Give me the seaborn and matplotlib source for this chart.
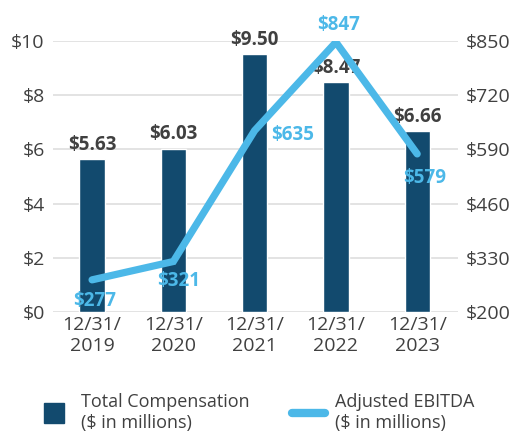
import matplotlib
matplotlib.use("Agg")
import matplotlib.pyplot as plt
import seaborn as sns
import pandas as pd
from matplotlib.lines import Line2D

categories = ["12/31/\n2019", "12/31/\n2020", "12/31/\n2021", "12/31/\n2022", "12/31/\n2023"]
compensation = [5.63, 6.03, 9.50, 8.47, 6.66]
ebitda = [277, 321, 635, 847, 579]
left_ticks = [0, 2, 4, 6, 8, 10]
right_ticks = [200, 330, 460, 590, 720, 850]

BAR = "#124a6e"
LINE = "#4cb8e8"
TXT = "#404040"

sns.set_theme(style="white")
plt.rcParams["font.family"] = ["Open Sans", "DejaVu Sans"]

fig = plt.figure(figsize=(5.15, 4.4), dpi=100)
ax = fig.add_axes([0.103, 0.291, 0.786, 0.616])

df = pd.DataFrame({"cat": categories, "comp": compensation, "ebitda": ebitda})
sns.barplot(data=df, x="cat", y="comp", color=BAR, width=0.31, ax=ax, saturation=1)
ax.set_ylim(0, 10)
ax.set_xlim(-0.48, 4.5)
ax.set_yticks(left_ticks)
ax.set_yticklabels([f"${t}" for t in left_ticks])
ax.yaxis.grid(True, color="#dedede", linewidth=1.2)
ax.set_axisbelow(True)
ax.set_xlabel("")
ax.set_ylabel("")
for s in ax.spines.values():
    s.set_visible(False)
ax.tick_params(axis="both", length=0, labelsize=14, colors=TXT, pad=3)
ax.tick_params(axis="y", pad=6)

for i, v in enumerate(compensation):
    ax.annotate(f"${v:.2f}", (i, v), xytext=(0, 3), textcoords="offset points",
                ha="center", va="bottom", fontsize=13.5, fontweight="bold", color=TXT)

ax2 = ax.twinx()
sns.lineplot(x=list(range(len(ebitda))), y=ebitda, ax=ax2, color=LINE, linewidth=5.2,
             solid_capstyle="round", solid_joinstyle="miter")
ax2.set_ylim(200, 850)
ax2.set_yticks(right_ticks)
ax2.set_yticklabels([f"${t}" for t in right_ticks])
for s in ax2.spines.values():
    s.set_visible(False)
ax2.tick_params(axis="y", length=0, labelsize=14, colors=TXT, pad=6)

offsets = [(2, -8, "center", "top"), (4, -7, "center", "top"), (12, -3, "left", "center"),
           (2, 5, "center", "bottom"), (5, -10, "center", "top")]
for i, (v, (dx, dy, ha, va)) in enumerate(zip(ebitda, offsets)):
    ax2.annotate(f"${v}", (i, v), xytext=(dx, dy), textcoords="offset points",
                 ha=ha, va=va, fontsize=13.5, fontweight="bold", color=LINE)

h1 = Line2D([], [], marker="s", markersize=14.5, linestyle="none",
            markerfacecolor=BAR, markeredgecolor=BAR)
h2 = Line2D([], [], color=LINE, linewidth=6, solid_capstyle="round")
common = dict(frameon=False, fontsize=13, labelcolor=TXT, handlelength=1.8,
              handletextpad=0.6, borderpad=0, borderaxespad=0)
fig.legend([h1], ["Total Compensation\n($ in millions)"], loc="upper left",
           bbox_to_anchor=(38 / 515, 1 - 393 / 440), **common)
fig.legend([h2], ["Adjusted EBITDA\n($ in millions)"], loc="upper left",
           bbox_to_anchor=(292 / 515, 1 - 393 / 440), **common)

fig.savefig("out.png", dpi=100)
